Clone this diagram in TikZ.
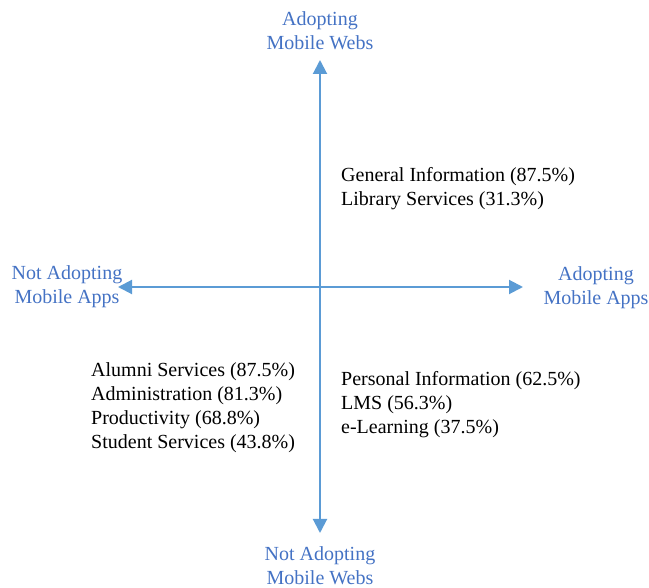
\documentclass[tikz,border=0pt]{standalone}
\usepackage{fontspec}
\setmainfont{Liberation Serif}
\usepackage{tikz}
\usetikzlibrary{arrows.meta}

\definecolor{axisblue}{RGB}{91,155,213}
\definecolor{labelblue}{RGB}{68,114,196}

\begin{document}
\begin{tikzpicture}[>={Triangle[length=14pt,width=14pt]}, x=1pt, y=-1pt,
    axislabel/.style={text=labelblue, align=center, inner sep=0pt, font=\fontsize{20}{24}\selectfont},
    itemlist/.style={anchor=west, align=left, inner sep=0pt, font=\fontsize{20}{24}\selectfont}]
    \useasboundingbox (0,0) rectangle (649,588);

    % 定义坐标点
    \coordinate (O) at (320,287);
    \coordinate (T) at (320,60);
    \coordinate (B) at (320,533);
    \coordinate (L) at (118,287);
    \coordinate (R) at (523,287);

    % 画坐标轴
    \draw[->, line width=2pt, axisblue] (O) -- (T);
    \draw[->, line width=2pt, axisblue] (O) -- (B);
    \draw[->, line width=2pt, axisblue] (O) -- (L);
    \draw[->, line width=2pt, axisblue] (O) -- (R);

    % 轴端标注
    \node[axislabel] (webY) at (320,31) {Adopting\\Mobile Webs};
    \node[axislabel] (webN) at (320,566) {Not Adopting\\Mobile Webs};
    \node[axislabel] (appN) at (67,287) {Not Adopting\\Mobile Apps};
    \node[axislabel] (appY) at (596,288) {Adopting\\Mobile Apps};

    % 各象限的服务
    \node[itemlist] (q1) at (341,188.5) {General Information (87.5\%)\\Library Services (31.3\%)};
    \node[itemlist] (q3) at (91,408) {Alumni Services (87.5\%)\\Administration (81.3\%)\\Productivity (68.8\%)\\Student Services (43.8\%)};
    \node[itemlist] (q4) at (341,405) {Personal Information (62.5\%)\\LMS (56.3\%)\\e-Learning (37.5\%)};
  \end{tikzpicture}
\end{document}
